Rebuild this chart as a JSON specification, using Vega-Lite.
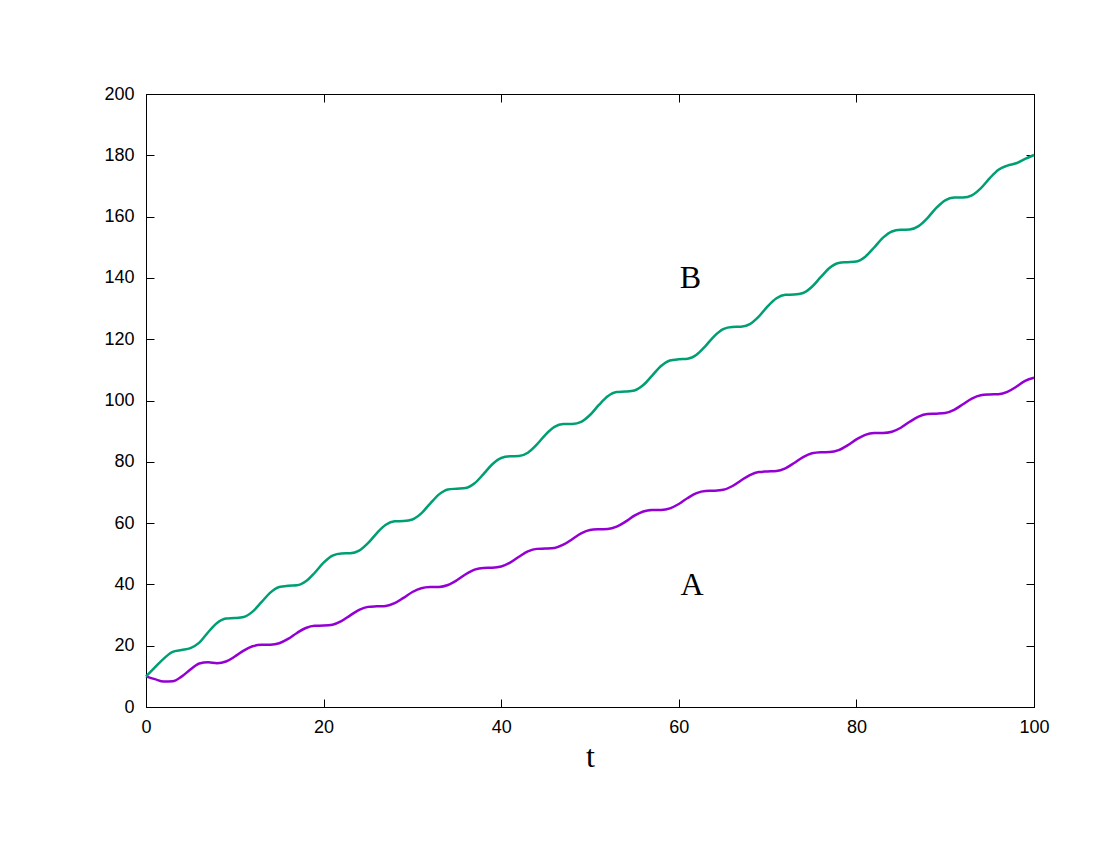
{
  "$schema": "https://vega.github.io/schema/vega-lite/v6.json",
  "width": 888,
  "height": 613,
  "autosize": "none",
  "padding": {"left": 146, "top": 94, "right": 66, "bottom": 143},
  "background": "white",
  "config": {
    "view": {"stroke": "black", "strokeWidth": 1},
    "axis": {
      "grid": false,
      "domainColor": "black",
      "domainWidth": 1,
      "tickColor": "black",
      "tickWidth": 1,
      "tickSize": -8,
      "labelFont": "Liberation Sans",
      "labelFontSize": 18,
      "labelColor": "black",
      "labelFlush": false,
      "labelOverlap": false,
      "titleColor": "black"
    }
  },
  "datasets": {
    "curves": [
      {"t":0,"A":10,"B":10},{"t":1,"A":9.1,"B":12.9},{"t":2,"A":8.3,"B":15.8},{"t":3,"A":8.4,"B":18.0},{"t":4,"A":9.9,"B":18.6},
      {"t":5,"A":12.2,"B":19.2},{"t":6,"A":14.2,"B":21.0},{"t":7,"A":14.6,"B":24.4},{"t":8,"A":14.3,"B":27.4},{"t":9,"A":14.83,"B":28.84},
      {"t":10,"A":16.46,"B":29.0},{"t":11,"A":18.41,"B":29.35},{"t":12,"A":19.8,"B":31.11},{"t":13,"A":20.27,"B":34.2},{"t":14,"A":20.31,"B":37.33},
      {"t":15,"A":20.8,"B":39.16},{"t":16,"A":22.21,"B":39.56},{"t":17,"A":24.16,"B":39.7},{"t":18,"A":25.78,"B":41.0},{"t":19,"A":26.5,"B":43.8},
      {"t":20,"A":26.57,"B":47.08},{"t":21,"A":26.86,"B":49.37},{"t":22,"A":28.01,"B":50.1},{"t":23,"A":29.89,"B":50.15},{"t":24,"A":31.69,"B":51.02},
      {"t":25,"A":32.67,"B":53.45},{"t":26,"A":32.85,"B":56.75},{"t":27,"A":32.99,"B":59.44},{"t":28,"A":33.87,"B":60.58},{"t":29,"A":35.61,"B":60.67},
      {"t":30,"A":37.52,"B":61.18},{"t":31,"A":38.77,"B":63.17},{"t":32,"A":39.13,"B":66.37},{"t":33,"A":39.18,"B":69.37},{"t":34,"A":39.8,"B":70.97},
      {"t":35,"A":41.34,"B":71.23},{"t":36,"A":43.3,"B":71.47},{"t":37,"A":44.8,"B":73.0},{"t":38,"A":45.38,"B":75.97},{"t":39,"A":45.43,"B":79.19},
      {"t":40,"A":45.82,"B":81.24},{"t":41,"A":47.11,"B":81.78},{"t":42,"A":49.04,"B":81.87},{"t":43,"A":50.75,"B":82.95},{"t":44,"A":51.59,"B":85.59},
      {"t":45,"A":51.7,"B":88.9},{"t":46,"A":51.91,"B":91.38},{"t":47,"A":52.94,"B":92.3},{"t":48,"A":54.75,"B":92.36},{"t":49,"A":56.62,"B":93.04},
      {"t":50,"A":57.73,"B":95.27},{"t":51,"A":57.99,"B":98.54},{"t":52,"A":58.07,"B":101.39},{"t":53,"A":58.83,"B":102.74},{"t":54,"A":60.48,"B":102.9},
      {"t":55,"A":62.42,"B":103.26},{"t":56,"A":63.79,"B":105.04},{"t":57,"A":64.25,"B":108.14},{"t":58,"A":64.29,"B":111.26},{"t":59,"A":64.8,"B":113.07},
      {"t":60,"A":66.23,"B":113.46},{"t":61,"A":68.18,"B":113.61},{"t":62,"A":69.78,"B":114.92},{"t":63,"A":70.48,"B":117.75},{"t":64,"A":70.56,"B":121.02},
      {"t":65,"A":70.85,"B":123.29},{"t":66,"A":72.02,"B":124.0},{"t":67,"A":73.9,"B":124.05},{"t":68,"A":75.69,"B":124.94},{"t":69,"A":76.66,"B":127.39},
      {"t":70,"A":76.84,"B":130.7},{"t":71,"A":76.98,"B":133.36},{"t":72,"A":77.88,"B":134.48},{"t":73,"A":79.62,"B":134.57},{"t":74,"A":81.53,"B":135.09},
      {"t":75,"A":82.77,"B":137.11},{"t":76,"A":83.11,"B":140.32},{"t":77,"A":83.17,"B":143.3},{"t":78,"A":83.81,"B":144.87},{"t":79,"A":85.35,"B":145.13},
      {"t":80,"A":87.31,"B":145.37},{"t":81,"A":88.8,"B":146.93},{"t":82,"A":89.37,"B":149.92},{"t":83,"A":89.41,"B":153.12},{"t":84,"A":89.82,"B":155.15},
      {"t":85,"A":91.12,"B":155.68},{"t":86,"A":93.05,"B":155.77},{"t":87,"A":94.75,"B":156.88},{"t":88,"A":95.57,"B":159.53},{"t":89,"A":95.69,"B":162.84},
      {"t":90,"A":95.9,"B":165.3},{"t":91,"A":96.94,"B":166.2},{"t":92,"A":98.77,"B":166.25},{"t":93,"A":100.63,"B":166.96},{"t":94,"A":101.72,"B":169.21},
      {"t":95,"A":101.97,"B":172.48},{"t":96,"A":102.06,"B":175.31},{"t":97,"A":102.83,"B":176.64},{"t":98,"A":104.49,"B":177.4},{"t":99,"A":106.44,"B":178.8},
      {"t":100,"A":107.4,"B":180.1}
    ],
    "labels": [
      {"t": 61.5, "v": 39.8, "label": "A"},
      {"t": 61.3, "v": 140, "label": "B"}
    ]
  },
  "layer": [
    {
      "data": {"name": "curves"},
      "transform": [{"fold": ["A", "B"], "as": ["series", "value"]}],
      "mark": {"type": "line", "strokeWidth": 2.5, "interpolate": "monotone"},
      "encoding": {
        "x": {
          "field": "t", "type": "quantitative",
          "scale": {"domain": [0, 100], "nice": false},
          "axis": {"orient": "bottom", "values": [0, 20, 40, 60, 80, 100], "labelPadding": 19, "title": "t",
                   "titleFont": "Liberation Serif", "titleFontSize": 32, "titleFontWeight": "normal", "titlePadding": 5}
        },
        "y": {
          "field": "value", "type": "quantitative",
          "scale": {"domain": [0, 200], "nice": false},
          "axis": {"orient": "left", "values": [0, 20, 40, 60, 80, 100, 120, 140, 160, 180, 200], "labelPadding": 20, "title": null}
        },
        "color": {
          "field": "series", "type": "nominal",
          "scale": {"domain": ["A", "B"], "range": ["#9400d3", "#009e73"]},
          "legend": null
        }
      }
    },
    {
      "data": {"name": "labels"},
      "mark": {"type": "text", "font": "Liberation Serif", "fontSize": 32, "color": "black", "baseline": "middle", "align": "center"},
      "encoding": {
        "x": {"field": "t", "type": "quantitative", "scale": {"domain": [0, 100], "nice": false},
              "axis": {"orient": "top", "values": [0, 20, 40, 60, 80, 100], "labels": false, "title": null}},
        "y": {"field": "v", "type": "quantitative", "scale": {"domain": [0, 200], "nice": false},
              "axis": {"orient": "right", "values": [0, 20, 40, 60, 80, 100, 120, 140, 160, 180, 200], "labels": false, "title": null}},
        "text": {"field": "label"}
      }
    }
  ],
  "resolve": {"axis": {"x": "independent", "y": "independent"}}
}
